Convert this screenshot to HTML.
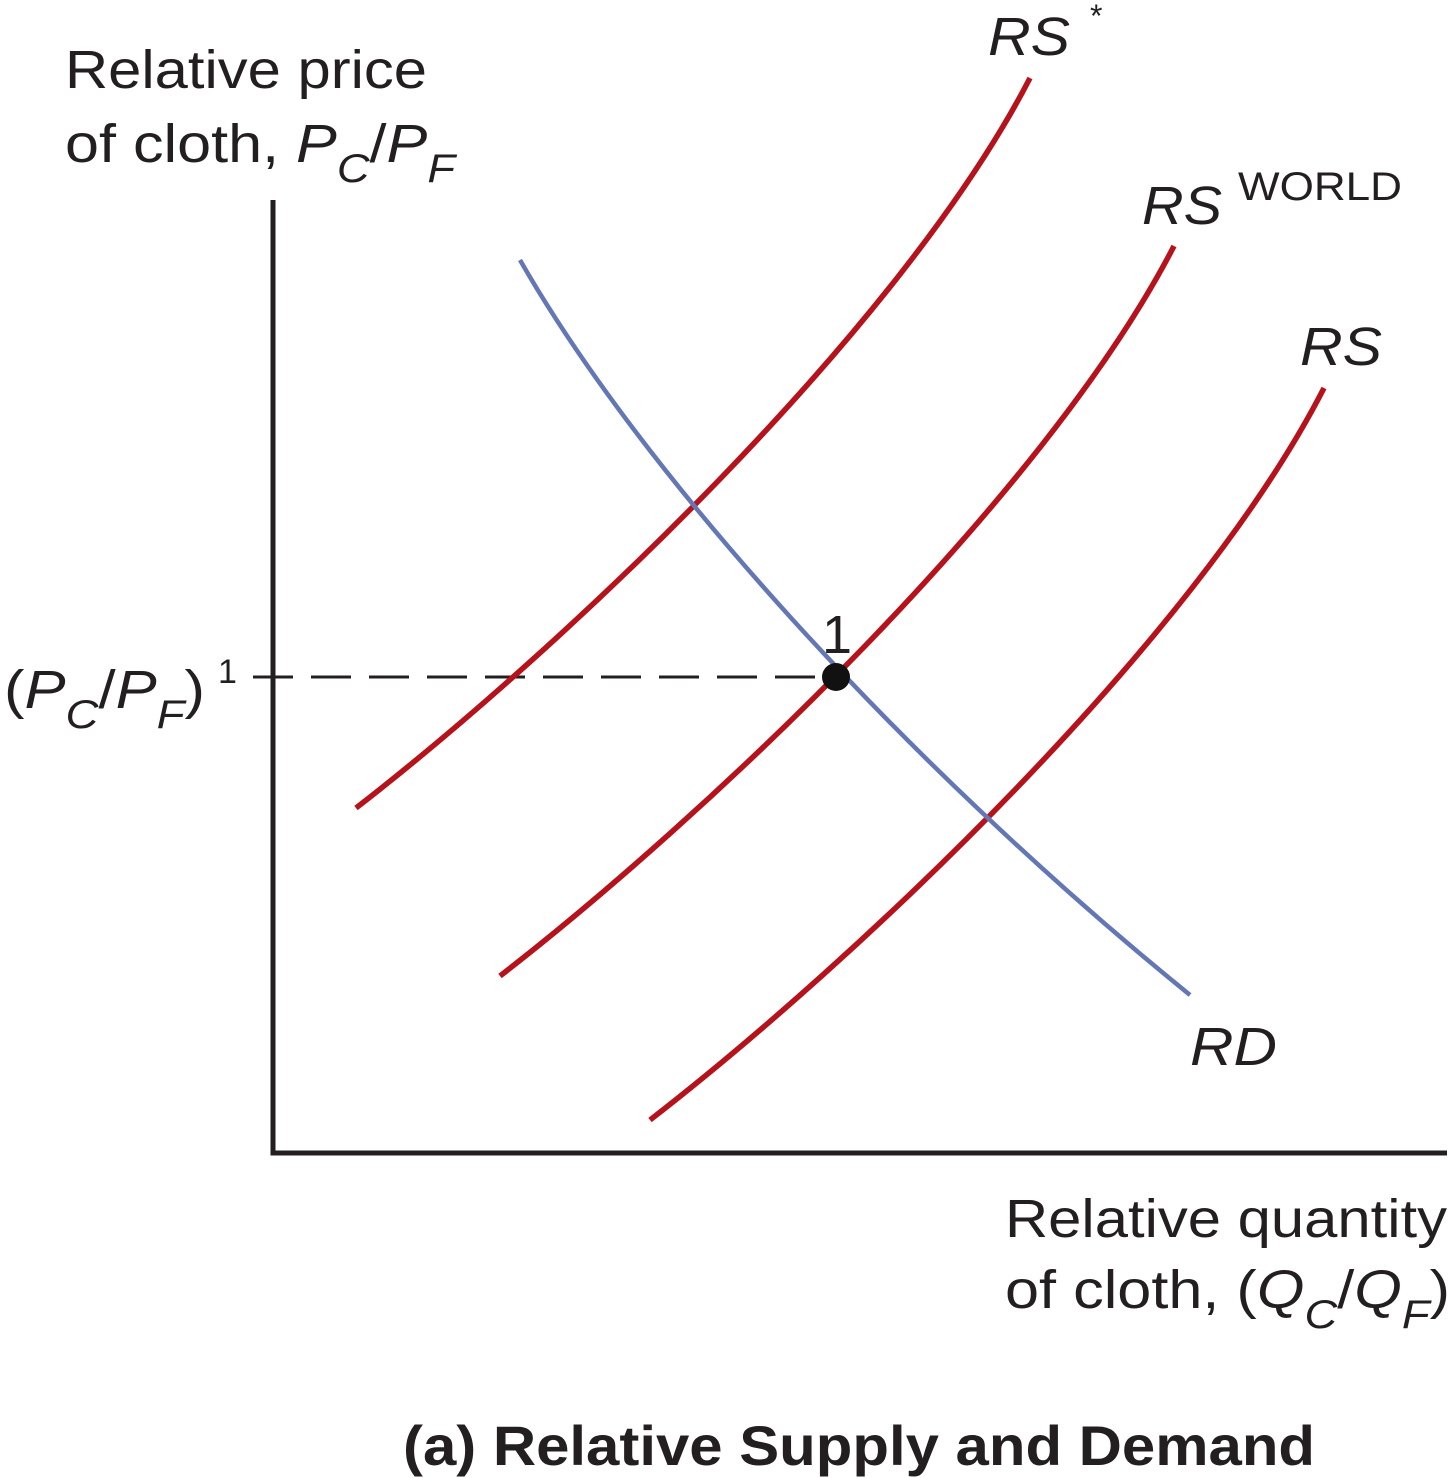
<!DOCTYPE html>
<html><head><style>body{margin:0;background:#fff}svg{display:block}</style></head>
<body>
<svg width="1452" height="1478" viewBox="0 0 1452 1478" xmlns="http://www.w3.org/2000/svg" font-family="Liberation Sans, sans-serif">
<rect width="1452" height="1478" fill="#fff"/>
<path d="M273,200 V1153 H1447" fill="none" stroke="#231f20" stroke-width="5"/>
<line x1="253" y1="677" x2="835" y2="677" stroke="#231f20" stroke-width="3" stroke-dasharray="40,18"/>
<g fill="none" stroke="#b5121b" stroke-width="5.5">
<path d="M356,808 C560,650 900,330 1030,78"/>
<path d="M500,976 C704,818 1044,498 1174,246"/>
<path d="M650,1120 C854,962 1194,642 1324,388"/>
</g>
<path d="M520,260 C640,470 900,760 1190,995" fill="none" stroke="#6477b5" stroke-width="4.5"/>
<circle cx="836" cy="677" r="14" fill="#111"/>
<g fill="#231f20" font-size="54">
<text x="65" y="88" textLength="362" lengthAdjust="spacingAndGlyphs">Relative price</text>
<text x="65" y="162" textLength="390" lengthAdjust="spacingAndGlyphs">of cloth, <tspan font-style="italic">P</tspan><tspan font-style="italic" font-size="40" dy="20">C</tspan><tspan dy="-20">/</tspan><tspan font-style="italic">P</tspan><tspan font-style="italic" font-size="40" dy="20">F</tspan></text>
<text x="4" y="708" textLength="201" lengthAdjust="spacingAndGlyphs">(<tspan font-style="italic">P</tspan><tspan font-style="italic" font-size="40" dy="20">C</tspan><tspan dy="-20">/</tspan><tspan font-style="italic">P</tspan><tspan font-style="italic" font-size="40" dy="20">F</tspan><tspan dy="-20">)</tspan></text>
<text x="218" y="683" font-size="34">1</text>
<text x="822" y="653">1</text>
<text x="988" y="55" font-style="italic" textLength="82" lengthAdjust="spacingAndGlyphs">RS</text><text x="1090" y="27" font-size="32">*</text>
<text x="1142" y="224" font-style="italic" textLength="80" lengthAdjust="spacingAndGlyphs">RS</text><text x="1238" y="200" font-size="40" textLength="164" lengthAdjust="spacingAndGlyphs">WORLD</text>
<text x="1300" y="365" font-style="italic" textLength="82" lengthAdjust="spacingAndGlyphs">RS</text>
<text x="1190" y="1065" font-style="italic" textLength="87" lengthAdjust="spacingAndGlyphs">RD</text>
<text x="1005" y="1237" textLength="442" lengthAdjust="spacingAndGlyphs">Relative quantity</text>
<text x="1005" y="1308" textLength="445" lengthAdjust="spacingAndGlyphs">of cloth, (<tspan font-style="italic">Q</tspan><tspan font-style="italic" font-size="40" dy="20">C</tspan><tspan dy="-20">/</tspan><tspan font-style="italic">Q</tspan><tspan font-style="italic" font-size="40" dy="20">F</tspan><tspan dy="-20">)</tspan></text>
<text x="403" y="1465" font-weight="bold" font-size="56" textLength="912" lengthAdjust="spacingAndGlyphs">(a) Relative Supply and Demand</text>
</g>
</svg>
</body></html>
